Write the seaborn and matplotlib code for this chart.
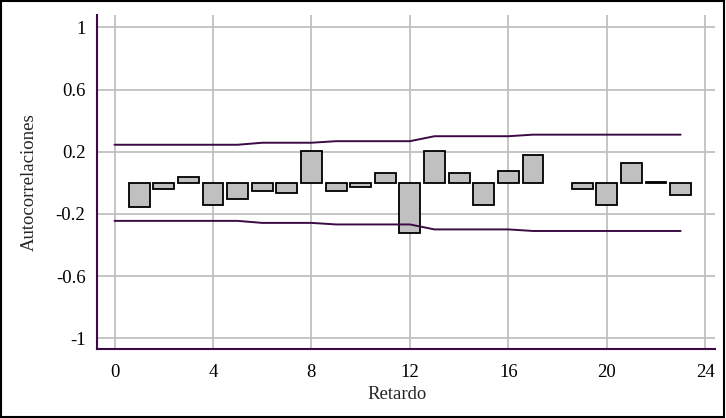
import matplotlib
matplotlib.use("Agg")
import matplotlib.pyplot as plt
import numpy as np
import pandas as pd
import seaborn as sns
from matplotlib.patches import Rectangle

# ---------- data ----------
lags = list(range(1, 24))
acf = [-0.155, -0.04, 0.04, -0.144, -0.105, -0.054, -0.066, 0.206,
       -0.054, -0.026, 0.064, -0.32, 0.206, 0.064, -0.144, 0.077,
       0.18, None, -0.04, -0.146, 0.129, 0.008, -0.081]

band_lags = list(range(0, 24))
band_upper = [0.245, 0.245, 0.245, 0.245, 0.245, 0.245, 0.258, 0.258,
              0.258, 0.268, 0.268, 0.268, 0.268, 0.300, 0.300, 0.300,
              0.300, 0.310, 0.310, 0.310, 0.310, 0.310, 0.310, 0.310]

x_ticks = [0, 4, 8, 12, 16, 20, 24]
y_ticks = [-1, -0.6, -0.2, 0.2, 0.6, 1]
y_tick_labels = ["-1", "-0.6", "-0.2", "0.2", "0.6", "1"]

PURPLE = "#3b0a45"
GRAY = "#c0c0c0"
FS = 13.5

sns.set_style("whitegrid", {"grid.color": GRAY})
plt.rcParams["font.family"] = ["Liberation Serif", "DejaVu Serif"]

df = pd.DataFrame({"lag": lags, "acf": acf}).dropna()
bands = pd.DataFrame({"lag": band_lags, "up": band_upper})
bands["low"] = -bands["up"]

fig = plt.figure(figsize=(7.26, 4.18), dpi=100)
ax = fig.add_axes([0.134, 0.165, 0.851, 0.799])

sns.barplot(data=df, x="lag", y="acf", native_scale=True, width=0.85,
            color=GRAY, saturation=1, edgecolor="black", linewidth=1.3,
            ax=ax, zorder=3)
sns.lineplot(data=bands, x="lag", y="up", color=PURPLE, linewidth=1.4,
             ax=ax, zorder=4)
sns.lineplot(data=bands, x="lag", y="low", color=PURPLE, linewidth=1.4,
             ax=ax, zorder=4)

ax.set_xlim(-0.7, 24.4)
ax.set_ylim(-1.07, 1.08)
ax.set_xticks(x_ticks)
ax.set_yticks(y_ticks)
ax.set_yticklabels(y_tick_labels)
ax.grid(True, color=GRAY, linewidth=1.3)
ax.tick_params(length=0, labelsize=FS, colors="black")
ax.tick_params(axis="y", pad=8.5)
ax.tick_params(axis="x", pad=10.5)
ax.set_xlabel("Retardo", fontsize=FS, labelpad=4)
ax.xaxis.label.set_x(0.486)
ax.set_ylabel("Autocorrelaciones", fontsize=FS)
ax.yaxis.set_label_coords(-0.097, 0.5)

for side in ["top", "right"]:
    ax.spines[side].set_visible(False)
for side in ["left", "bottom"]:
    ax.spines[side].set_color(PURPLE)
    ax.spines[side].set_linewidth(1.5)

# outer frame around the figure
fig.patches.append(Rectangle((0.002, 0.003), 0.995, 0.994, transform=fig.transFigure,
                             fill=False, edgecolor="black", linewidth=1.5))

fig.savefig("out.png", dpi=100)
